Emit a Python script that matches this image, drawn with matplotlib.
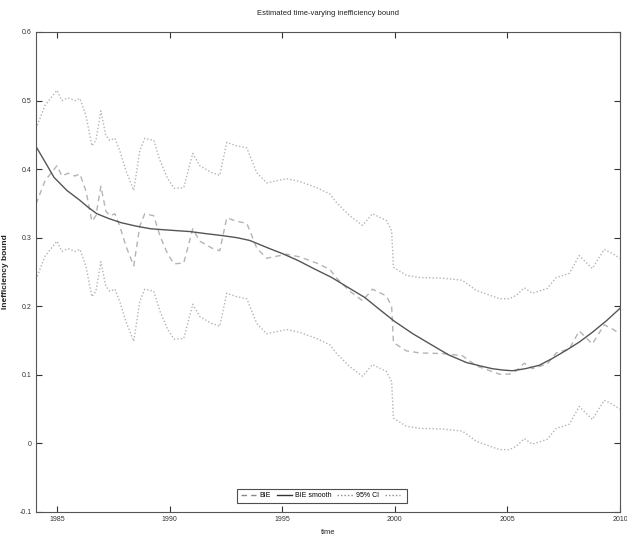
import matplotlib
matplotlib.use("Agg")
import matplotlib.pyplot as plt
from matplotlib.lines import Line2D

plt.rcParams['font.family'] = ['Liberation Sans', 'DejaVu Sans']

# time points (years)
t = [1984.07, 1984.47, 1985.0, 1985.22, 1985.49, 1985.8, 1986.02, 1986.29, 1986.55, 1986.73,
     1986.95, 1987.17, 1987.35, 1987.57, 1987.79, 1988.06, 1988.41, 1988.68, 1988.9, 1989.3,
     1989.57, 1989.92, 1990.2, 1990.63, 1991.03, 1991.34, 1991.87, 1992.23, 1992.54, 1992.98,
     1993.43, 1993.87, 1994.31, 1995.2, 1995.78, 1996.53, 1997.11, 1997.42, 1998.0, 1998.57,
     1999.01, 1999.63, 1999.86, 1999.94, 2000.52, 2001.1, 2002.12, 2003.0, 2003.63, 2004.65,
     2005.09, 2005.4, 2005.75, 2006.11, 2006.77, 2007.17, 2007.75, 2008.19, 2008.77, 2009.3,
     2009.66, 2010.0]

ci_upper = [0.459, 0.493, 0.515, 0.500, 0.504, 0.500, 0.503, 0.478, 0.434, 0.442,
            0.485, 0.449, 0.442, 0.445, 0.427, 0.398, 0.369, 0.427, 0.445, 0.442,
            0.413, 0.386, 0.372, 0.373, 0.423, 0.405, 0.395, 0.391, 0.439, 0.434,
            0.431, 0.395, 0.380, 0.386, 0.382, 0.373, 0.364, 0.351, 0.332, 0.318,
            0.335, 0.325, 0.310, 0.257, 0.245, 0.242, 0.241, 0.238, 0.223, 0.211,
            0.211, 0.216, 0.227, 0.219, 0.226, 0.242, 0.248, 0.274, 0.255, 0.283,
            0.277, 0.270]

bie = [0.349, 0.383, 0.405, 0.390, 0.394, 0.390, 0.393, 0.368, 0.324, 0.332,
       0.375, 0.339, 0.332, 0.335, 0.317, 0.288, 0.259, 0.317, 0.335, 0.332,
       0.303, 0.276, 0.262, 0.263, 0.313, 0.295, 0.285, 0.281, 0.329, 0.324,
       0.321, 0.285, 0.270, 0.276, 0.272, 0.263, 0.254, 0.241, 0.222, 0.208,
       0.225, 0.215, 0.200, 0.147, 0.135, 0.132, 0.131, 0.128, 0.113, 0.101,
       0.101, 0.106, 0.117, 0.109, 0.116, 0.132, 0.138, 0.164, 0.145, 0.173,
       0.167, 0.160]

ci_lower = [0.239, 0.273, 0.295, 0.280, 0.284, 0.280, 0.283, 0.258, 0.214, 0.222,
            0.265, 0.229, 0.222, 0.225, 0.207, 0.178, 0.149, 0.207, 0.225, 0.222,
            0.193, 0.166, 0.152, 0.153, 0.203, 0.185, 0.175, 0.171, 0.219, 0.214,
            0.211, 0.175, 0.160, 0.166, 0.162, 0.153, 0.144, 0.131, 0.112, 0.098,
            0.115, 0.105, 0.090, 0.037, 0.025, 0.022, 0.021, 0.018, 0.003, -0.009,
            -0.009, -0.004, 0.007, -0.001, 0.006, 0.022, 0.028, 0.054, 0.035, 0.063,
            0.057, 0.050]

t_smooth = [1984.07, 1984.5, 1984.87, 1985.44, 1986.0, 1986.4, 1986.77, 1987.3, 1987.84,
            1988.5, 1989.17, 1990.0, 1990.9, 1991.6, 1992.36, 1993.0, 1993.56, 1994.45,
            1995.0, 1995.69, 1996.4, 1997.2, 1997.9, 1998.66, 1999.3, 1999.99, 2000.8,
            2001.67, 2002.4, 2003.18, 2003.8, 2004.33, 2004.8, 2005.22, 2005.8, 2006.42,
            2007.0, 2007.62, 2008.2, 2008.77, 2009.4, 2010.0]
bie_smooth = [0.433, 0.409, 0.388, 0.369, 0.355, 0.344, 0.335, 0.328, 0.322,
              0.317, 0.313, 0.311, 0.309, 0.306, 0.303, 0.300, 0.296, 0.284,
              0.277, 0.267, 0.255, 0.242, 0.228, 0.213, 0.196, 0.178, 0.160,
              0.143, 0.129, 0.118, 0.113, 0.109, 0.107, 0.106, 0.109, 0.114,
              0.124, 0.136, 0.148, 0.162, 0.179, 0.197]

xticks = [1985, 1990, 1995, 2000, 2005, 2010]
yticks = [-0.1, 0, 0.1, 0.2, 0.3, 0.4, 0.5, 0.6]
ytick_labels = ['-0.1', '0', '0.1', '0.2', '0.3', '0.4', '0.5', '0.6']
labels = ['BIE', 'BIE smooth', '95% CI', '']

fig = plt.figure(figsize=(6.27, 5.44), dpi=100)
ax = fig.add_axes([36/627, 32/544, 584/627, 480/544])

c_light = '#b4b4b4'
c_dark = '#555555'
ax.plot(t, bie, linestyle=(0, (4, 3)), color=c_light, lw=1.0)
ax.plot(t_smooth, bie_smooth, linestyle='-', color=c_dark, lw=1.0)
ax.plot(t, ci_upper, linestyle=(0, (1, 1.5)), color=c_light, lw=1.0)
ax.plot(t, ci_lower, linestyle=(0, (1, 1.5)), color=c_light, lw=1.0)

ax.set_xlim(1984.07, 2010)
ax.set_ylim(-0.1, 0.6)
ax.set_xticks(xticks)
ax.set_xticklabels([str(v) for v in xticks])
ax.set_yticks(yticks)
ax.set_yticklabels(ytick_labels)
ax.tick_params(direction='in', top=True, right=True, labelsize=5, length=4,
               width=0.8, colors='#333333', pad=3)
for s in ax.spines.values():
    s.set_color('#555555')
    s.set_linewidth(0.8)

ax.set_title('Estimated time-varying inefficiency bound', fontsize=5.5, pad=12, color='#222222')
ax.set_xlabel('time', fontsize=5.5, labelpad=4, color='#222222')
ax.set_ylabel('Inefficiency bound', fontsize=6, fontweight='bold', labelpad=8, color='#222222')

handles = [
    Line2D([], [], linestyle=(0, (4, 3)), color='#888888', lw=1.0),
    Line2D([], [], linestyle='-', color='#333333', lw=1.0),
    Line2D([], [], linestyle=(0, (1, 1.5)), color='#888888', lw=1.0),
    Line2D([], [], linestyle=(0, (1, 1.5)), color='#888888', lw=1.0),
]
leg = ax.legend(handles, labels, loc='lower center', bbox_to_anchor=(0.49, 0.012), ncol=4,
                fontsize=5, frameon=True, fancybox=False, edgecolor='#222222',
                handlelength=2.2, handletextpad=0.5, columnspacing=0.8,
                borderpad=0.5)
leg.get_frame().set_linewidth(0.8)

fig.savefig('out.png', dpi=100)
